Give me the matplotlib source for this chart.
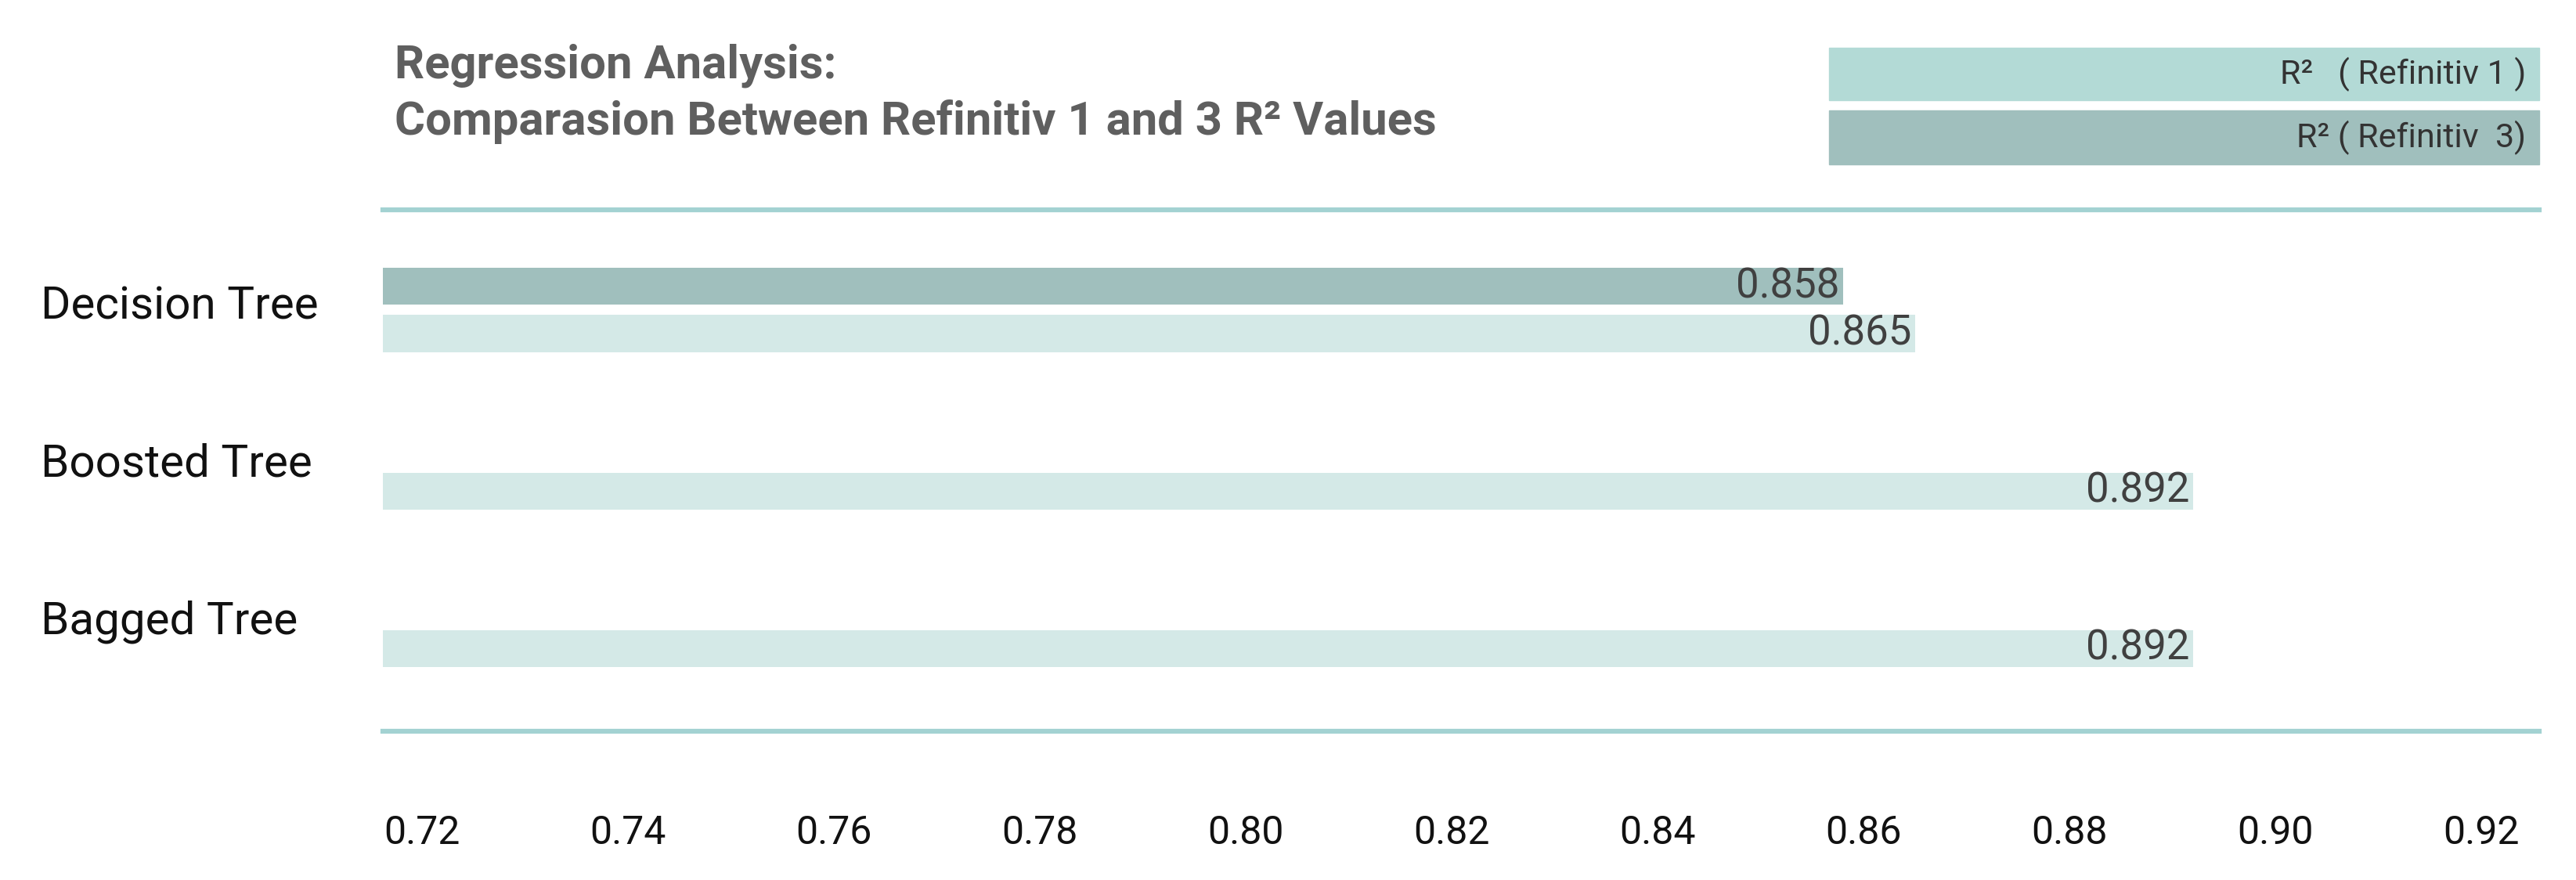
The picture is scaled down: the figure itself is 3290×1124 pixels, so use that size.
import numpy as np
import matplotlib
matplotlib.use("Agg")
import matplotlib.pyplot as plt
from matplotlib.patches import Rectangle
import matplotlib.transforms as mtransforms

plt.rcParams["font.family"] = ["Roboto", "DejaVu Sans"]

models = ["Decision Tree", "Boosted Tree", "Bagged Tree"]
r2_refinitiv1 = [0.865, 0.892, 0.892]
r2_refinitiv3 = [0.858, np.nan, np.nan]
ticks = [0.72, 0.74, 0.76, 0.78, 0.80, 0.82, 0.84, 0.86, 0.88, 0.90, 0.92]

light = "#d4e9e7"
dark = "#a0bfbd"
legend_light = "#b3dad6"
line_col = "#a3d2d2"

W, H = 3291, 1124
fig = plt.figure(figsize=(W / 100, H / 100), dpi=100)
ax = fig.add_axes([489 / W, 1 - 934 / H, (3243 - 489) / W, (934 - 268) / H])

xmin, xmax = 0.7162, 0.9256
y = np.arange(len(models))
bh = 0.234
off = -0.30

ax.barh(y, np.array(r2_refinitiv1) - xmin, left=xmin, height=bh, color=light)
ax.barh(y + off, np.array(r2_refinitiv3) - xmin, left=xmin, height=bh, color=dark)

for i in range(len(models)):
    ax.annotate(f"{r2_refinitiv1[i]:.3f}", (r2_refinitiv1[i], y[i]), xytext=(-5, 0),
                textcoords="offset pixels", ha="right", va="center",
                fontsize=38, color="#404040")
    if not np.isnan(r2_refinitiv3[i]):
        ax.annotate(f"{r2_refinitiv3[i]:.3f}", (r2_refinitiv3[i], y[i] + off), xytext=(-5, 0),
                    textcoords="offset pixels", ha="right", va="center",
                    fontsize=38, color="#404040")

ax.set_xlim(xmin, xmax)
ax.set_ylim(2.527, -0.786)
ax.set_yticks([])
ax.set_xticks(ticks)
ax.set_xticklabels([f"{t:.2f}" for t in ticks])
ax.tick_params(axis="x", length=0, pad=76, labelsize=36, labelcolor="#111111")

for s in ["left", "right"]:
    ax.spines[s].set_visible(False)
for s in ["top", "bottom"]:
    ax.spines[s].set_color(line_col)
    ax.spines[s].set_linewidth(4.5)

# category labels on the left
trans = mtransforms.blended_transform_factory(fig.transFigure, ax.transData)
for i, m in enumerate(models):
    ax.text(52 / W, y[i] - 0.17, m, transform=trans, ha="left", va="center",
            fontsize=42, color="#111111")

# title
fig.text(504 / W, 1 - 84 / H, "Regression Analysis:", ha="left", va="center",
         fontsize=43, fontweight="bold", color="#5f5f5f")
fig.text(504 / W, 1 - 155 / H, "Comparasion Between Refinitiv 1 and 3 R² Values",
         ha="left", va="center", fontsize=43, fontweight="bold", color="#5f5f5f")

# legend boxes
fig.patches.append(Rectangle((2336 / W, 1 - 128 / H), (3243 - 2336) / W, 67 / H,
                             transform=fig.transFigure, color=legend_light))
fig.patches.append(Rectangle((2336 / W, 1 - 210 / H), (3243 - 2336) / W, 69 / H,
                             transform=fig.transFigure, color=dark))
fig.text(3226 / W, 1 - 95 / H, "R²   ( Refinitiv 1 )", ha="right", va="center",
         fontsize=31, color="#333333")
fig.text(3226 / W, 1 - 176 / H, "R² ( Refinitiv  3)", ha="right", va="center",
         fontsize=31, color="#333333")

fig.savefig("out.png", dpi=100)
